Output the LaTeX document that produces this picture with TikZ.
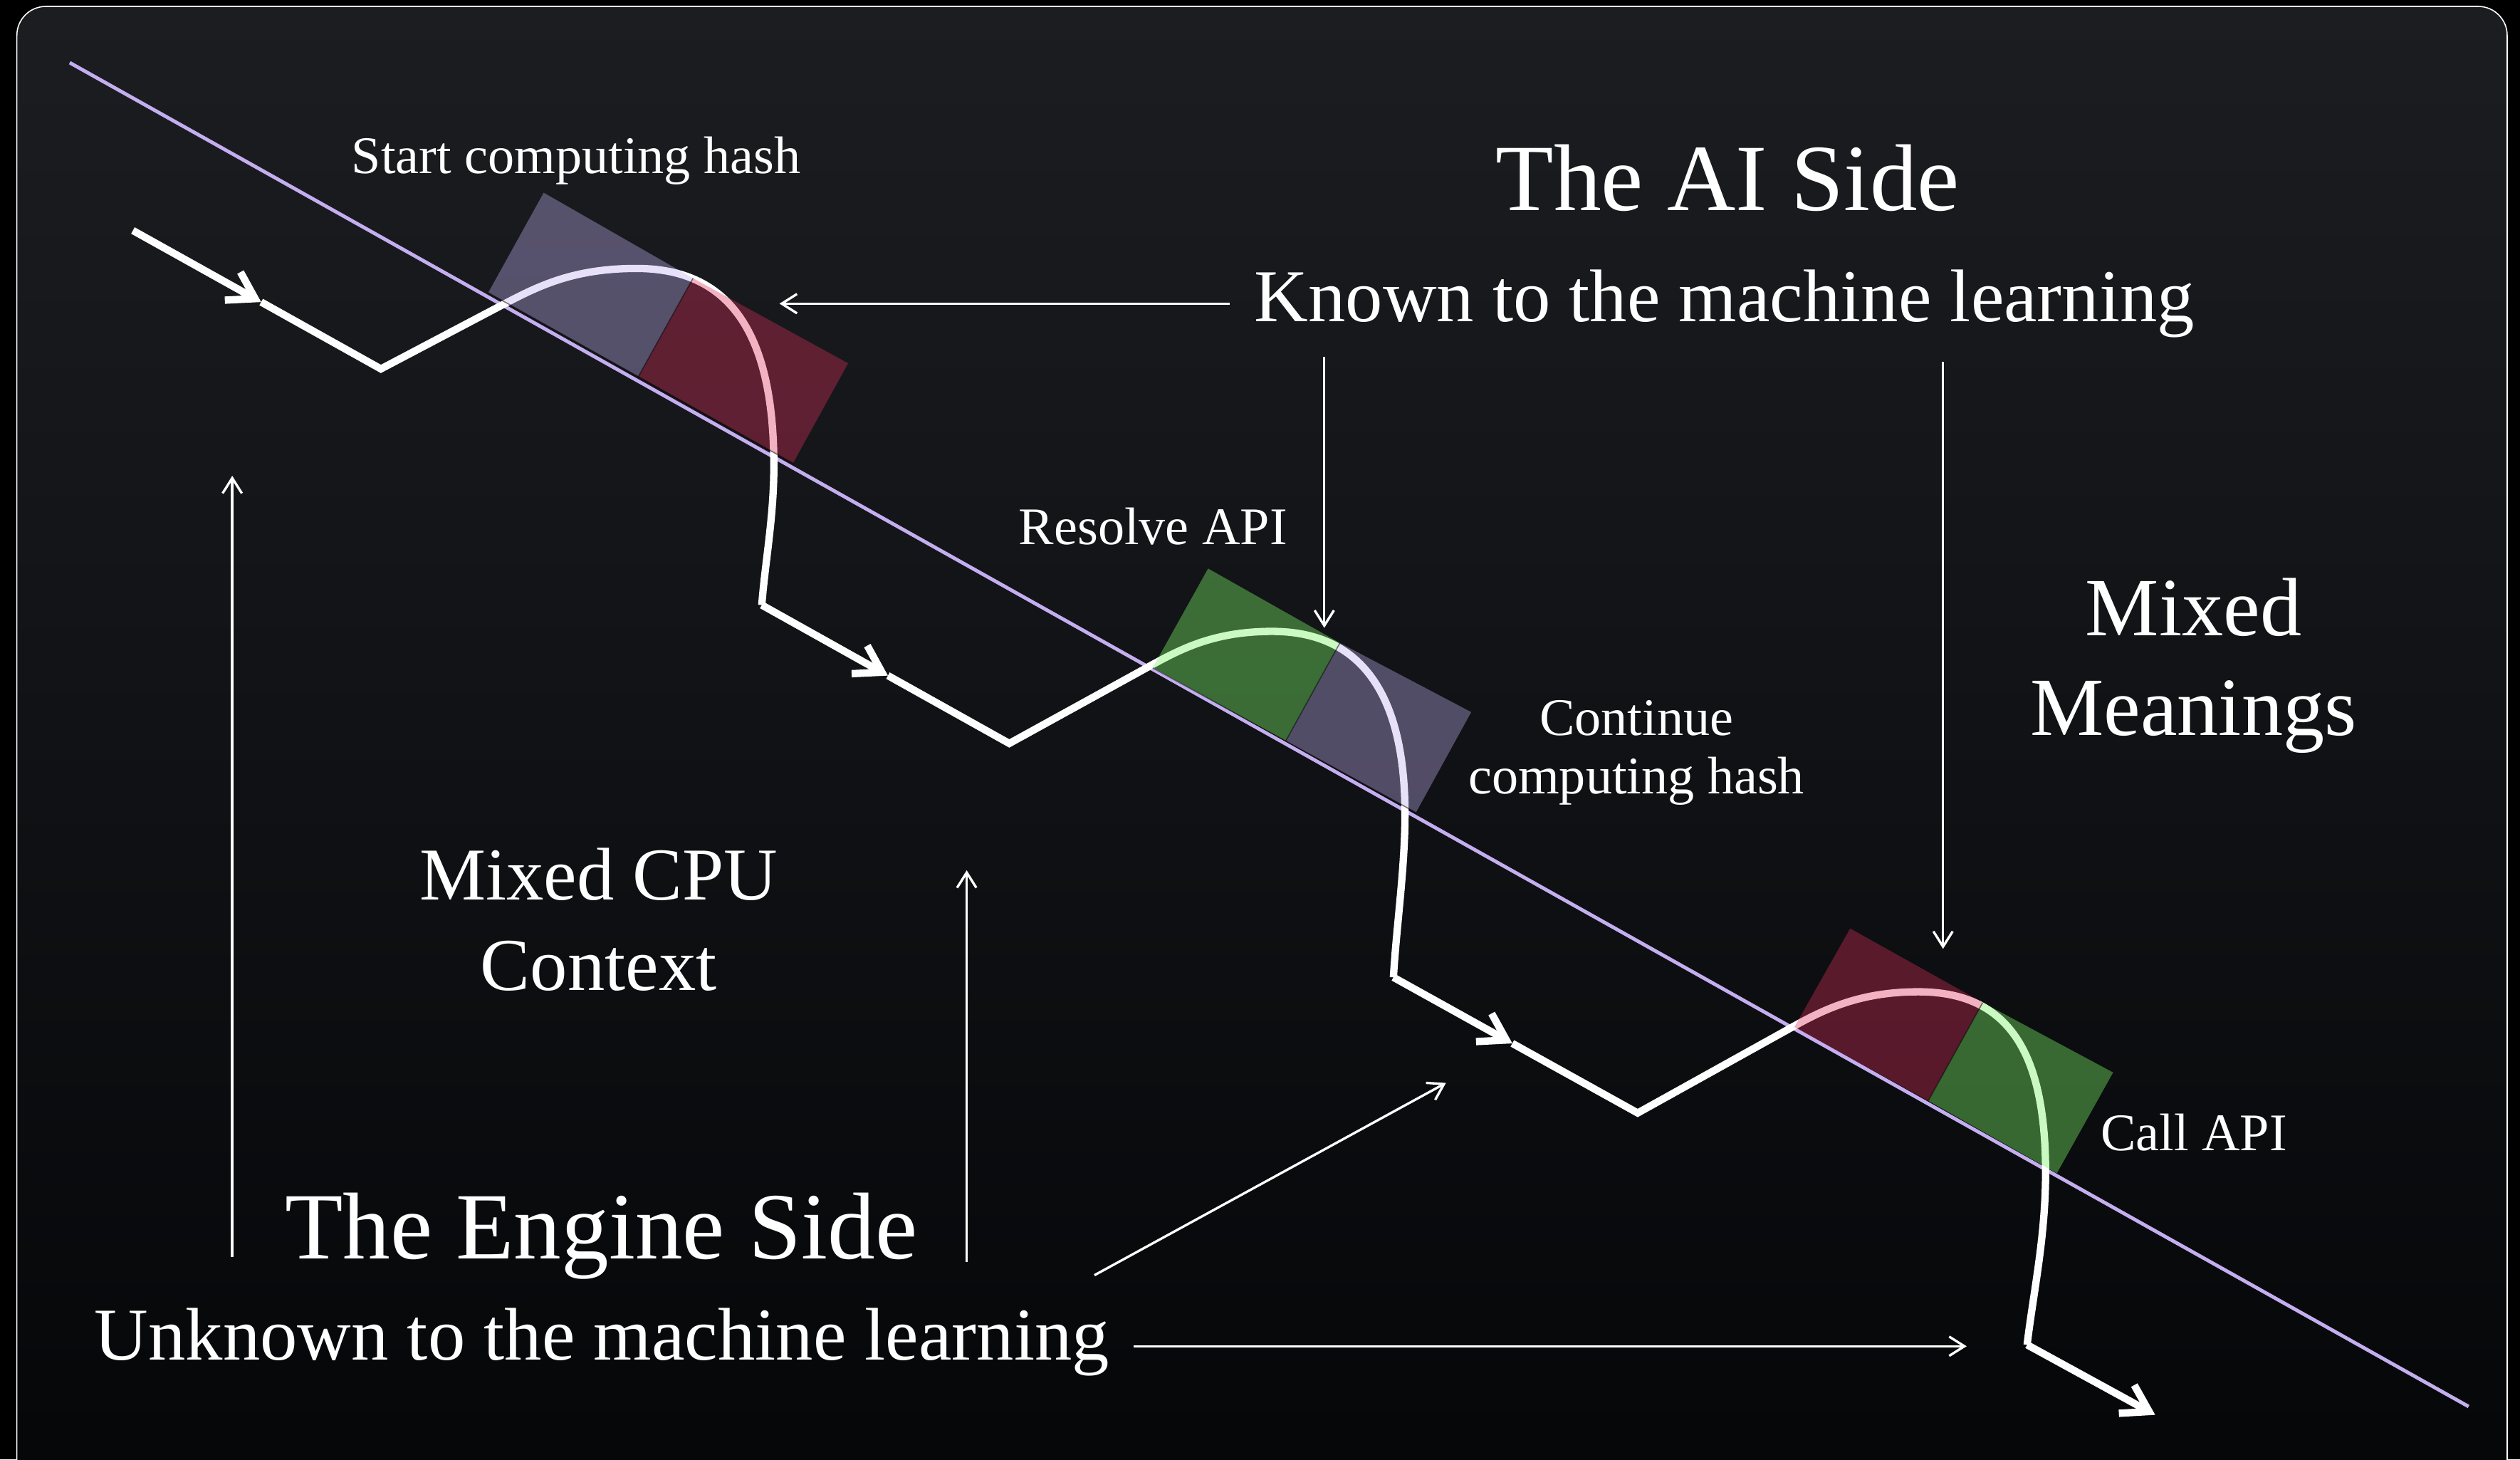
\documentclass[tikz,border=0pt]{standalone}
\usepackage{fontspec}
\setmainfont{Liberation Serif}
\usetikzlibrary{arrows.meta}
\definecolor{bgtop}{RGB}{27,29,33}
\definecolor{bgbot}{RGB}{5,6,8}
\definecolor{lineviolet}{RGB}{196,174,240}
\definecolor{lavbox}{RGB}{190,174,237}
\definecolor{redbox}{RGB}{221,48,92}
\definecolor{grnbox}{RGB}{124,244,104}

\begin{document}
\begin{tikzpicture}[x=0.2mm, y=-0.2mm,
    flow/.style={white, line width=2.6pt},
    flowtip/.style={-{Straight Barb[length=3.2mm, width=4mm]}},
    thinarrow/.style={white, line width=0.85pt, -{Straight Barb[length=1.9mm, width=2.4mm]}},
    smalltext/.style={white, inner sep=0pt, anchor=base, align=center, font=\fontsize{18.7}{20.9}\selectfont},
    midtext/.style={white, inner sep=0pt, anchor=base, align=center, font=\fontsize{26.4}{31.9}\selectfont},
    meantext/.style={white, inner sep=0pt, anchor=base, align=center, font=\fontsize{29.3}{35.1}\selectfont},
    headtext/.style={white, inner sep=0pt, anchor=base, font=\fontsize{33.6}{40}\selectfont},
    boxedge/.style={black, opacity=0.5, line width=0.4pt}]
    \useasboundingbox (0,0) rectangle (1568,908);
    \fill[black] (0,0) rectangle (1568,908);
    \begin{scope}
        \clip (0,0) rectangle (1568,908);
        \shade[top color=bgtop, bottom color=bgbot, rounded corners=3.6mm] (10.5,4) rectangle (1560,940);
        \draw[white, line width=0.4pt, rounded corners=3.6mm] (10.5,4) rectangle (1560,940);
    \end{scope}

    \coordinate (ln1) at (43.4, 39);
    \coordinate (ln2) at (1536, 875);
    \draw[lineviolet, line width=1.25pt] (ln1) -- (ln2);

    \coordinate (s1) at (82.7, 143.4);
    \coordinate (m1) at (162.5, 187.9);
    \coordinate (c1) at (237, 229.5);
    \coordinate (x1) at (312, 190);
    \coordinate (p1) at (396, 167);
    \coordinate (v1) at (481.5, 290);
    \coordinate (b1) at (474, 376.4);
    \coordinate (m2) at (552.5, 420.3);
    \coordinate (c2) at (628, 462.5);
    \coordinate (x2) at (717, 413.5);
    \coordinate (p2) at (791.6, 392.8);
    \coordinate (v2) at (874.2, 506.5);
    \coordinate (b2) at (867, 608);
    \coordinate (m3) at (941, 649.1);
    \coordinate (c3) at (1019, 692.4);
    \coordinate (x3) at (1116, 638.5);
    \coordinate (p3) at (1193.6, 617);
    \coordinate (v3) at (1272.8, 729.4);
    \coordinate (b3) at (1261.3, 836.6);
    \coordinate (e) at (1341, 880.2);

    \draw[flow, flowtip] (s1) -- (m1);
    \draw[flow] (m1) -- (c1) -- (x1) .. controls (334.1, 178.4) and (356, 167) .. (p1)
        .. controls (456, 167) and (481.5, 210) .. (v1)
        .. controls (481.5, 322) and (476, 350) .. (b1);
    \draw[flow, flowtip] (b1) -- (m2);
    \draw[flow] (m2) -- (c2) -- (x2) .. controls (736.3, 402.9) and (756.6, 392.8) .. (p2)
        .. controls (847, 392.8) and (874.2, 432) .. (v2)
        .. controls (874.2, 540) and (869, 575) .. (b2);
    \draw[flow, flowtip] (b2) -- (m3);
    \draw[flow] (m3) -- (c3) -- (x3) .. controls (1135.2, 627.8) and (1157.6, 617) .. (p3)
        .. controls (1250, 617) and (1272.8, 655) .. (v3)
        .. controls (1272.8, 770) and (1265, 805) .. (b3);
    \draw[flow, flowtip] (b3) -- (e);

    \fill[lavbox, fill opacity=0.38] (303.8, 182.1) -- (338.3, 119.9) -- (431.2, 173.1) -- (397.2, 234.3) -- cycle;
    \fill[redbox, fill opacity=0.37] (397.2, 234.3) -- (431.2, 173.1) -- (527.7, 226) -- (493.4, 288.2) -- cycle;
    \draw[boxedge] (431.2, 173.1) -- (397.2, 234.3);
    \draw[boxedge] (303.8, 182.1) -- (493.4, 288.2);

    \fill[grnbox, fill opacity=0.40] (717.2, 415.5) -- (751.7, 353.7) -- (833.7, 400) -- (800, 461) -- cycle;
    \fill[lavbox, fill opacity=0.38] (800, 461) -- (833.7, 400) -- (915.4, 443) -- (881, 505.5) -- cycle;
    \draw[boxedge] (833.7, 400) -- (800, 461);
    \draw[boxedge] (717.2, 415.5) -- (881, 505.5);

    \fill[redbox, fill opacity=0.37] (1116.5, 639) -- (1151.2, 577.6) -- (1233.7, 623.7) -- (1199.8, 684.8) -- cycle;
    \fill[grnbox, fill opacity=0.40] (1199.8, 684.8) -- (1233.7, 623.7) -- (1314.8, 667.2) -- (1279.8, 729.9) -- cycle;
    \draw[boxedge] (1233.7, 623.7) -- (1199.8, 684.8);

    \node[smalltext] (start) at (358.5, 108) {Start computing hash};
    \node[smalltext] (resolve) at (717.5, 338.8) {Resolve API};
    \node[smalltext] (cont) at (1018.2, 494) {Continue\\computing hash};
    \node[smalltext] (callapi) at (1365, 715.9) {Call API};
    \node[headtext] (aiside) at (1075, 131) {The AI Side};
    \node[midtext] (known) at (1073, 200) {Known to the machine learning};
    \node[meantext] (mixmean) at (1364.8, 457.3) {Mixed\\Meanings};
    \node[midtext] (mixcpu) at (372.5, 616) {Mixed CPU\\Context};
    \node[headtext] (engine) at (374, 783.2) {The Engine Side};
    \node[midtext] (unknown) at (374.5, 846) {Unknown to the machine learning};

    \coordinate (ka) at (765, 188.9);
    \coordinate (kb) at (485, 188.9);
    \coordinate (kc) at (824, 222);
    \coordinate (kd) at (824, 390.6);
    \coordinate (ke) at (1209, 225);
    \coordinate (kf) at (1209, 590.3);
    \coordinate (ua) at (144.5, 782);
    \coordinate (ub) at (144.5, 296);
    \coordinate (uc) at (601.5, 785);
    \coordinate (ud) at (601.5, 541.4);
    \coordinate (ue) at (681, 793.3);
    \coordinate (uf) at (899.7, 673.7);
    \coordinate (ug) at (705.5, 837.5);
    \coordinate (uh) at (1223.7, 837.5);
    \draw[thinarrow] (ka) -- (kb);
    \draw[thinarrow] (kc) -- (kd);
    \draw[thinarrow] (ke) -- (kf);
    \draw[thinarrow] (ua) -- (ub);
    \draw[thinarrow] (uc) -- (ud);
    \draw[thinarrow] (ue) -- (uf);
    \draw[thinarrow] (ug) -- (uh);
\end{tikzpicture}
\end{document}
